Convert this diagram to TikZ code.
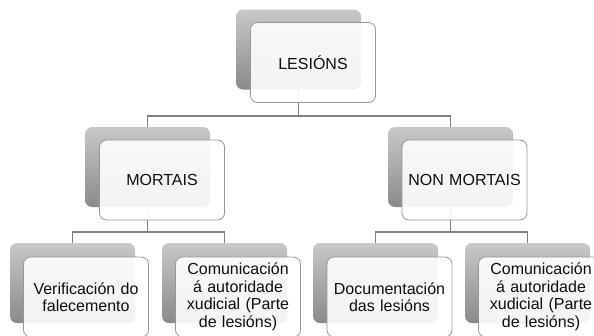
\documentclass[tikz,border=0pt]{standalone}
\usepackage{fontspec}
\setmainfont{Liberation Sans}
\pgfdeclarelayer{background}
\pgfsetlayers{background,main}
\definecolor{linegray}{RGB}{128,128,128}
\definecolor{edgegray}{RGB}{150,150,150}
\definecolor{shadetop}{RGB}{200,200,200}
\definecolor{shadebot}{RGB}{138,138,138}
\definecolor{inktext}{RGB}{15,15,15}
\begin{document}
\begin{tikzpicture}[x=1pt,y=-1pt,
  backbox/.style={rectangle, rounded corners=7pt, minimum width=125pt, minimum height=80pt,
    inner sep=0pt, draw=none, top color=shadetop, bottom color=shadebot},
  frontbox/.style={rectangle, rounded corners=7pt, minimum width=125pt, minimum height=80pt,
    inner sep=2pt, draw=edgegray, line width=0.8pt, fill=white, fill opacity=0.9, text opacity=1,
    text=inktext, align=center, text width=121pt,
    font=\fontsize{16}{17.5}\selectfont},
  conn/.style={draw=linegray, line width=1.5pt}]
\useasboundingbox (0,0) rectangle (594,335);
\clip (0,0) rectangle (594,335);

% back (shaded) boxes
\node[backbox] (s-les) at (298.5,49.5) {};
\node[backbox] (s-mor) at (147.5,167) {};
\node[backbox] (s-non) at (450.5,167) {};
\node[backbox] (s-b1) at (72.5,283) {};
\node[backbox] (s-b2) at (224.5,283) {};
\node[backbox] (s-b3) at (375.5,283) {};
\node[backbox] (s-b4) at (527.5,283) {};

% front (text) boxes
\node[frontbox] (w-les) at (313,62.5) {LESIÓNS};
\node[frontbox] (w-mor) at (162,180) {MORTAIS};
\node[frontbox] (w-non) at (464.5,180) {NON MORTAIS};
\node[frontbox] (w-b1) at (86,297) {Verificación do\\falecemento};
\node[frontbox] (w-b2) at (238,297) {Comunicación\\á autoridade\\xudicial (Parte\\de lesións)};
\node[frontbox] (w-b3) at (389.5,297) {Documentación\\das lesións};
\node[frontbox] (w-b4) at (541,297) {Comunicación\\á autoridade\\xudicial (Parte\\de lesións)};

% tree connectors, behind the boxes
\begin{pgfonlayer}{background}
  \draw[conn] (s-les.center) -- (s-les.south) -- ++(0,26.5) coordinate (bus1);
  \draw[conn] (bus1) -| (s-mor.north);
  \draw[conn] (bus1) -| (s-non.north);
  \draw[conn] (s-mor.center) -- (s-mor.south) -- ++(0,25) coordinate (bus2);
  \draw[conn] (bus2) -| (s-b1.north);
  \draw[conn] (bus2) -| (s-b2.north);
  \draw[conn] (s-non.center) -- (s-non.south) -- ++(0,25) coordinate (bus3);
  \draw[conn] (bus3) -| (s-b3.north);
  \draw[conn] (bus3) -| (s-b4.north);
\end{pgfonlayer}
\end{tikzpicture}
\end{document}
